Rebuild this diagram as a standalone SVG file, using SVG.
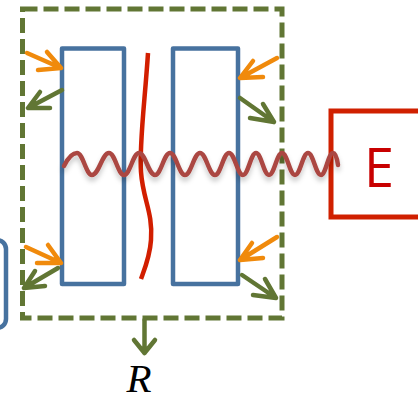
<svg xmlns="http://www.w3.org/2000/svg" width="418" height="401" viewBox="0 0 418 401">
<defs>
<style>
.blue{fill:none;stroke:#47729f;stroke-width:4.5;stroke-linejoin:round}
.dash{fill:none;stroke:#617634;stroke-width:5;stroke-dasharray:15 6}
.org{fill:none;stroke:#f08a0c;stroke-width:4.5;stroke-linecap:round;stroke-linejoin:round}
.grn{fill:none;stroke:#617634;stroke-width:4.5;stroke-linecap:round;stroke-linejoin:round}
.wave{fill:none;stroke:#ab4742;stroke-width:4.5;stroke-linecap:round}
.crack{fill:none;stroke:#d21e00;stroke-width:4.5;stroke-linecap:butt}
</style>
<filter id="sh" x="-10%" y="-50%" width="120%" height="200%">
<feDropShadow dx="0" dy="4" stdDeviation="2.5" flood-color="#000" flood-opacity="0.22"/>
</filter>
</defs>
<g id="left-partial"><rect class="blue" x="-30" y="240" width="36" height="88" rx="9"/></g>
<g id="boundary"><rect class="dash" x="22.5" y="9" width="259.5" height="309"/></g>
<g id="wall-left"><rect class="blue" x="62" y="48.5" width="62" height="235.5"/></g>
<g id="wall-right"><rect class="blue" x="173" y="48.5" width="65" height="235.5"/></g>
<g id="crack"><path class="crack" d="M148,53 C145,100 139,145 141,172 C143,200 153,212 151,240 C150,256 145,268 141,279"/></g>
<g id="E-box">
<rect x="331" y="111" width="100" height="106" fill="none" stroke="#d02000" stroke-width="5"/>
<text x="379" y="187" font-family="Open Sans, Liberation Sans, sans-serif" font-size="54" fill="#c80000" text-anchor="middle">E</text>
</g>
<g id="connectors">
<path class="wave" filter="url(#sh)" d="M64,166 C68,158 72,153 77,153 C83,153 86,175 92,175 C98.8,175 102.2,153 109,153 C115,153 118,175 124,175 C130,175 133,153 139,153 C145.4,153 148.6,175 155,175 C161,175 164,153 170,153 C176,153 179,175 185,175 C191,175 194,153 200,153 C206,153 209,175 215,175 C220.6,175 223.4,153 229,153 C234.6,153 237.4,175 243,175 C248.2,175 250.8,153 256,153 C261.2,153 263.8,175 269,175 C274.2,175 276.8,153 282,153 C287.2,153 289.8,175 295,175 C300.2,175 302.8,153 308,153 C313.2,153 315.8,175 321,175 C325.8,175 328.2,153 333,153 C335.5,153 337,158 338,165"/>
<path class="org" d="M27,53 L61,68 M47,52 L61,68 L38,70"/>
<path class="grn" d="M62,90 L28,108 M40,92 L28,108 L50,108"/>
<path class="org" d="M277,58 L240,78 M253,61 L240,78 L263,77"/>
<path class="grn" d="M240,98 L274,122 M250,118 L274,122 L263,104"/>
<path class="org" d="M26,247 L61,263 M48,245 L61,263 L37,263"/>
<path class="grn" d="M58,268 L24,288 M35,271 L24,288 L45,286"/>
<path class="org" d="M277,237 L240,260 M252,243 L240,260 L263,258"/>
<path class="grn" d="M242,275 L276,298 M253,295 L276,298 L265,279"/>
<path class="grn" d="M144.5,320 L144.5,353 M134,340 L144.5,353 L155,340"/>
</g>
<g id="R-label"><text x="139" y="392" font-family="Liberation Serif, serif" font-style="italic" font-size="41" fill="#000" text-anchor="middle">R</text></g>
</svg>
